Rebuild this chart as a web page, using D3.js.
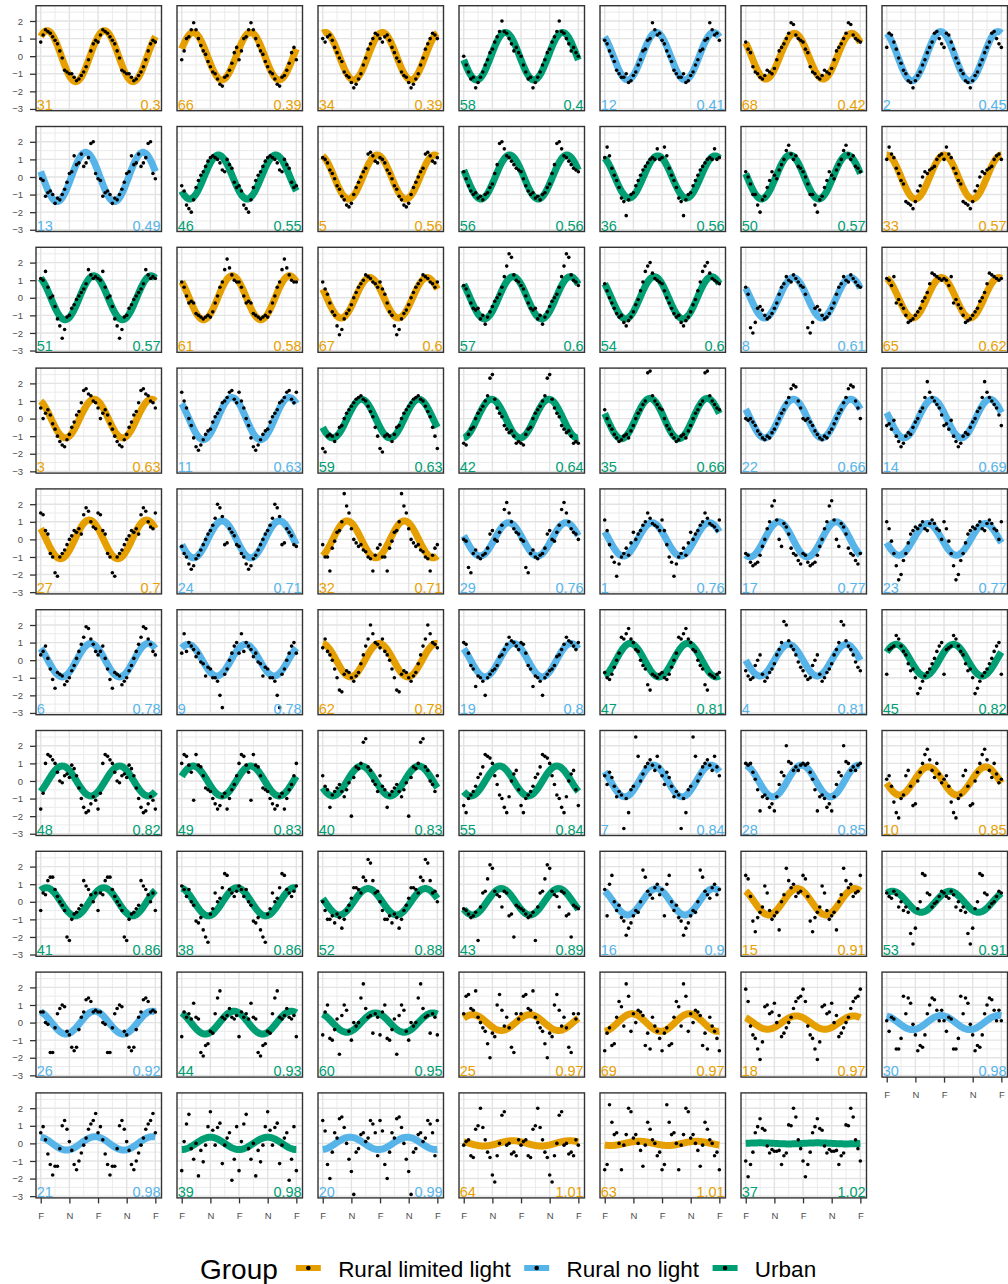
<!DOCTYPE html>
<html>
<head>
<meta charset="utf-8">
<script src="https://cdn.jsdelivr.net/npm/d3@7"></script>
<style>
  html, body { margin: 0; padding: 0; background: #fff; }
  svg { display: block; font-family: "Liberation Sans", Arial, sans-serif; }
</style>
</head>
<body>
<svg id="chart" width="1008" height="1284"></svg>
<script>
// Panels in plotting order (sorted by the score shown bottom right)
const ids = [31,66,34,58,12,68,2, 13,46,5,56,36,50,33, 51,61,67,57,54,8,65,
             3,11,59,42,35,22,14, 27,24,32,29,1,17,23, 6,9,62,19,47,4,45,
             48,49,40,55,7,28,10, 41,38,52,43,16,15,53, 26,44,60,25,69,18,30,
             21,39,20,64,63,37];

// L = Rural limited light, N = Rural no light, U = Urban
const groups = ["L","L","L","U","N","L","N", "N","U","L","U","U","U","L",
                "U","L","L","U","U","N","L", "L","N","U","U","U","N","N",
                "L","N","L","N","N","N","N", "N","N","L","N","U","N","U",
                "U","U","U","U","N","N","L", "U","U","U","U","N","L","U",
                "N","U","U","L","L","L","N", "N","U","N","L","L","U"];

const scores = [0.3,0.39,0.39,0.4,0.41,0.42,0.45, 0.49,0.55,0.56,0.56,0.56,0.57,0.57,
                0.57,0.58,0.6,0.6,0.6,0.61,0.62, 0.63,0.63,0.63,0.64,0.66,0.66,0.69,
                0.7,0.71,0.71,0.76,0.76,0.77,0.77, 0.78,0.78,0.78,0.8,0.81,0.81,0.82,
                0.82,0.83,0.83,0.84,0.84,0.85,0.85, 0.86,0.86,0.88,0.89,0.9,0.91,0.91,
                0.92,0.93,0.95,0.97,0.97,0.97,0.98, 0.98,0.98,0.99,1.01,1.01,1.02];

// fitted cosinor curve per panel: amplitude and peak position (x units, period 2)
const amps = [1.45,1.35,1.35,1.35,1.35,1.3,1.4, 1.4,1.25,1.25,1.25,1.2,1.25,1.25,
              1.25,1.25,1.15,1.2,1.2,1.15,1.15, 1.1,1.2,1.1,1.1,1.15,1.1,1.1,
              1.1,1.05,1.05,0.95,0.95,1.0,0.9, 0.95,0.9,0.95,0.95,0.95,0.9,0.9,
              0.85,0.85,0.85,0.85,0.9,0.9,0.8, 0.8,0.8,0.75,0.75,0.75,0.75,0.6,
              0.65,0.65,0.55,0.45,0.5,0.38,0.4, 0.38,0.35,0.35,0.15,0.12,0.03];
const peaks = [0.22,0.40,0.08,1.45,1.8,1.7,1.88, 1.57,1.28,1.9,1.6,1.85,1.55,0.0,
               1.85,1.76,1.64,1.72,1.73,1.66,1.91, 1.86,1.75,1.35,0.97,1.58,1.66,1.6,
               1.69,1.41,0.85,1.57,1.65,1.15,1.43, 1.75,0.22,1.97,1.74,0.89,1.5,0.33,
               0.75,0.4,1.35,1.25,1.7,1.95,1.45, 0.2,1.93,1.58,1.31,1.8,1.8,0.2,
               1.88,1.82,1.84,0.31,0.95,1.76,1.9, 1.9,1.0,0.95,1.7,1.2,0.5];

// observations over one year (24 per cycle); the same year is shown twice
const points = [
  [0.8,1.2,1.5,1.4,1.3,1.1,0.9,0.7,0.3,-0.1,-0.8,-0.9,-1.0,-1.0,-1.2,-1.4,-1.3,-1.1,-0.9,-0.6,-0.2,0.3,0.7,0.9],
  [-0.2,0.3,1.0,1.1,1.5,1.9,1.5,1.0,0.6,0.3,0.1,-0.3,-0.6,-0.9,-1.0,-1.3,-1.6,-1.7,-1.2,-1.1,-0.8,-0.4,0.2,0.5],
  [1.0,0.8,1.1,1.2,0.9,0.5,0.2,-0.1,-0.3,-0.9,-1.1,-1.2,-1.5,-1.8,-1.6,-1.3,-1.0,-0.5,-0.1,0.4,0.7,1.0,1.3,1.2],
  [0.0,-0.5,-0.9,-1.3,-1.2,-1.8,-1.5,-1.2,-0.9,-0.5,-0.2,0.2,0.4,0.8,1.1,1.4,2.0,1.4,1.3,1.0,0.7,0.3,0.5,0.2],
  [0.9,0.7,0.3,0.0,-0.3,-0.8,-1.0,-1.2,-1.2,-1.0,-1.5,-1.4,-1.1,-0.9,-0.5,-0.2,0.3,0.4,0.9,1.0,1.9,1.5,1.2,1.3],
  [0.8,0.4,0.2,-0.6,-0.9,-1.0,-1.2,-1.3,-1.1,-0.8,-0.9,-1.0,-0.7,-0.2,0.3,0.5,0.7,1.0,1.3,1.9,1.8,1.2,1.0,0.9],
  [0.5,1.3,1.2,0.8,0.4,-0.1,-0.4,-0.8,-1.0,-1.4,-1.5,-1.8,-1.4,-1.1,-0.9,-0.5,-0.2,0.2,0.5,0.8,1.3,1.4,1.0,0.7],

  [-0.1,-0.2,-1.1,-0.9,-0.8,-1.0,-1.5,-1.2,-1.3,-1.0,-0.7,-0.3,0.2,0.3,1.2,0.7,0.8,1.3,0.6,0.8,1.1,1.9,2.0,0.2],
  [-0.5,-0.8,-1.6,-1.8,-2.0,-1.3,-0.6,-0.2,0.1,0.3,0.6,0.9,1.1,1.2,1.1,1.0,0.8,0.4,0.3,1.0,0.7,0.5,-0.3,-0.6],
  [1.1,1.0,0.8,0.4,0.2,-0.1,-0.5,-0.7,-1.1,-1.3,-1.6,-1.7,-1.5,-1.0,-0.6,-0.3,0.0,0.3,0.5,1.3,1.4,1.2,0.9,0.8],
  [0.3,-0.1,-0.5,-0.8,-1.0,-0.9,-1.2,-1.1,-1.3,-1.0,-0.9,-0.6,-0.4,0.2,0.7,1.9,2.0,1.6,1.2,1.1,0.9,0.7,0.5,0.4],
  [1.1,1.7,1.2,0.5,0.1,-0.2,-0.6,-1.2,-1.4,-2.2,-1.3,-1.0,-0.9,-0.5,-0.2,0.1,0.4,0.6,0.8,1.0,1.1,1.0,1.6,1.0],
  [0.3,0.0,-0.4,-1.0,-1.0,-1.6,-2.0,-1.3,-1.1,-0.6,-0.2,0.3,0.1,-0.1,0.4,0.7,1.0,1.5,1.8,1.3,1.0,1.2,0.6,0.5],
  [1.0,1.7,1.3,1.1,0.5,0.2,-0.2,-0.4,-1.4,-1.5,-1.6,-1.8,-1.4,-0.8,-0.5,0.0,0.3,0.2,0.4,0.5,0.6,1.0,1.2,1.3],

  [1.1,1.0,1.5,0.6,0.0,0.1,-0.5,-1.2,-1.6,-2.3,-1.8,-1.1,-1.0,-0.6,-0.4,-0.1,0.1,0.3,0.5,0.8,1.6,1.3,1.1,1.2],
  [0.9,0.6,0.1,-0.3,-0.2,-0.3,-0.9,-1.0,-1.1,-1.2,-1.1,-1.0,-1.1,-0.8,-0.3,0.1,0.6,0.9,1.6,2.2,1.7,1.3,1.0,0.9],
  [0.9,0.5,0.2,-0.3,-0.8,-1.0,-1.6,-2.1,-1.8,-1.2,-0.9,-0.7,-0.4,0.0,0.3,0.6,0.8,1.0,1.3,1.2,1.1,0.9,0.8,0.6],
  [0.7,0.5,0.1,-0.3,-0.6,-0.7,-0.6,-1.2,-1.0,-1.5,-1.1,-0.8,-0.5,-0.2,0.0,0.2,0.6,1.2,1.8,2.5,2.3,1.3,1.0,0.9],
  [0.8,0.4,0.0,-0.3,-0.6,-0.9,-1.1,-1.0,-1.4,-1.6,-1.3,-1.1,-0.8,-0.4,-0.1,0.4,0.9,1.5,1.8,2.0,1.4,1.1,1.0,0.9],
  [0.6,0.2,-1.7,-2.0,-1.4,-0.6,-0.5,-0.7,-1.0,-1.2,-1.1,-0.9,-0.6,-0.3,0.2,0.6,0.8,1.2,1.0,0.9,1.3,1.1,0.9,0.7],
  [1.1,1.0,0.7,1.2,-0.3,-0.1,-0.4,-0.6,-1.0,-1.4,-1.3,-1.2,-1.0,-0.8,-0.6,-0.2,0.0,0.3,0.8,1.4,1.3,1.2,1.1,1.0],

  [0.6,0.0,0.3,0.5,0.2,-0.3,-0.6,-1.0,-1.3,-1.5,-1.6,-1.2,-0.9,-0.5,-0.2,0.2,0.4,0.9,1.6,1.7,1.4,1.3,1.0,0.9],
  [1.5,1.0,0.6,0.0,-0.4,-1.1,-1.6,-1.8,-1.5,-1.2,-0.9,-0.7,-0.6,-0.2,0.1,0.3,0.5,0.9,1.0,1.2,1.5,1.6,1.1,0.9],
  [-1.7,-1.9,-1.0,-0.9,-1.0,-1.3,-0.9,-0.5,-0.4,0.0,0.3,0.5,0.7,0.9,1.1,1.2,1.3,1.1,1.0,0.7,0.4,0.1,-0.5,-1.0],
  [-1.4,-1.5,-0.9,-0.6,-0.5,0.0,0.3,0.5,0.7,1.0,1.3,2.3,2.5,1.1,0.6,0.3,0.1,-0.4,-0.6,-0.8,-0.7,-1.0,-1.4,-1.3],
  [0.5,0.0,-0.4,-0.6,-0.9,-1.1,-1.3,-1.2,-1.0,-0.9,-1.1,-0.7,-0.4,0.0,0.3,0.5,0.8,1.0,2.6,2.7,1.3,1.0,0.8,0.6],
  [0.0,-0.1,0.0,-0.2,-0.4,-0.7,-0.9,-1.1,-1.2,-1.0,-1.1,-0.8,-0.6,-0.3,0.0,0.3,0.5,0.9,1.2,1.7,1.9,1.8,1.0,0.6],
  [-0.4,-0.3,-0.6,-0.1,-1.0,-1.3,-1.6,-1.4,-1.0,-0.8,-0.9,-0.5,-0.2,0.0,0.4,0.6,1.2,2.1,1.5,1.2,1.0,0.8,0.6,0.2],

  [1.5,1.4,0.5,0.3,-0.8,-1.0,-1.9,-2.1,-1.0,-0.8,-0.6,-0.3,0.0,0.2,0.5,0.4,0.6,0.3,1.4,1.8,1.6,1.0,0.7,0.6],
  [-0.4,-0.8,-1.0,-1.4,-1.7,-1.5,-1.1,-0.9,-0.6,-0.3,0.0,0.3,0.5,0.8,1.2,2.0,1.8,1.3,-0.3,-0.2,0.6,0.4,0.2,-0.3],
  [-0.3,-1.0,-1.0,-1.8,-0.5,-0.1,0.4,0.5,1.0,2.6,1.9,1.5,0.6,0.0,-0.2,-0.4,-0.3,-0.6,-0.7,-1.0,-1.1,-1.8,-0.9,-0.5],
  [0.0,-0.1,-1.6,-1.9,-0.8,-0.6,-1.0,-1.1,-0.9,-0.8,-0.5,0.3,0.5,0.0,-0.1,0.4,0.8,1.7,2.1,1.5,1.0,0.6,0.4,0.3],
  [1.1,0.5,-0.3,-1.0,-1.3,-2.1,-1.4,-1.0,-0.8,-0.5,-0.9,-0.2,0.4,0.0,0.3,0.5,0.8,1.0,1.5,1.2,0.9,0.8,0.7,0.5],
  [-0.8,-0.9,-1.3,-1.5,-1.4,-1.3,-0.9,-0.4,0.0,0.6,1.0,1.9,2.2,1.1,0.0,-0.4,0.9,0.7,0.3,-0.5,-0.8,-0.9,-1.2,-1.4],
  [1.0,0.6,-0.1,-0.8,-1.5,-2.3,-2.0,-1.2,-0.8,-0.2,0.3,0.5,0.7,0.6,0.8,1.0,0.6,0.5,0.9,1.1,0.9,0.6,0.5,0.0],

  [0.3,0.5,0.8,0.1,-0.5,-1.1,-1.6,-0.7,-0.8,-0.9,-1.4,-1.2,-1.0,-0.6,-0.3,0.1,0.5,0.9,1.3,1.9,1.8,1.2,0.9,0.5],
  [0.4,1.5,0.5,1.0,0.8,0.6,0.2,0.4,-0.1,-0.2,-0.9,-0.4,-0.5,-1.0,-1.0,-1.2,-2.0,-2.7,-0.8,-0.5,0.0,0.4,0.8,1.0],
  [0.7,1.2,0.5,0.3,0.0,-0.5,-1.0,-1.7,-1.8,-0.8,-0.6,-0.7,-1.0,-1.2,-0.9,-0.7,-0.2,0.3,0.8,1.2,2.0,1.5,1.0,0.9],
  [1.0,0.9,0.4,-0.3,-0.5,-1.5,-0.9,-1.0,-1.2,-2.0,-1.0,-0.8,-0.6,-0.5,-0.3,0.2,0.3,0.6,0.9,1.3,1.1,1.0,0.8,0.6],
  [-0.7,-1.0,-1.1,-0.8,-0.4,0.0,0.4,1.3,1.2,1.5,1.8,1.2,1.0,0.6,0.5,0.0,-0.3,-0.5,-1.4,-1.7,-0.8,-0.9,-1.0,-0.8],
  [-0.6,-0.9,-1.1,-1.0,-0.3,0.0,0.3,-0.8,-1.2,-1.0,-0.7,-0.5,-0.2,0.3,0.6,1.0,2.2,2.0,1.1,0.8,0.6,0.3,-0.1,-0.4],
  [-0.8,0.6,0.7,0.8,1.4,1.2,0.8,0.5,0.3,-0.2,-0.6,-0.5,-1.0,-1.9,-1.6,-1.2,-0.9,-0.7,-0.5,-0.2,0.1,0.5,0.8,1.0],

  [-1.6,-0.7,1.0,1.5,1.4,1.2,1.0,0.5,0.0,-0.1,0.3,0.4,0.2,0.9,0.7,0.3,-0.4,-1.0,-1.5,-1.8,-1.7,-1.3,-0.9,-1.1],
  [1.0,1.5,1.4,0.9,0.5,-1.1,1.5,0.9,0.8,0.3,-0.4,-0.5,-0.6,-1.0,-1.3,-1.6,-1.4,-0.9,-0.7,-1.6,-1.0,-0.5,-0.2,0.3],
  [0.3,-0.3,-0.5,-1.5,-0.8,-0.6,-0.4,-0.2,-0.6,-0.9,-0.5,-0.1,-2.0,0.2,0.8,0.7,1.0,2.2,2.4,0.8,0.6,0.0,-0.2,-0.6],
  [-1.4,-1.8,-1.0,-0.8,-0.6,-0.3,0.2,0.4,0.8,1.5,1.4,1.3,1.0,0.3,-0.2,-0.8,-1.0,-1.5,-1.8,-0.9,0.0,0.4,0.6,-0.5],
  [0.3,-0.2,0.5,0.2,-0.3,-0.9,-0.6,-0.8,-2.7,-1.0,-1.8,-0.5,-0.3,2.5,1.4,0.0,0.4,0.8,1.0,1.2,0.9,0.6,1.4,0.8],
  [1.0,0.9,1.0,0.5,0.1,-0.5,-1.7,-0.9,-0.8,-1.0,-1.5,-1.3,-1.7,-0.9,-0.2,0.5,0.3,2.0,1.1,1.0,0.6,0.8,0.6,0.9],
  [0.1,0.3,-0.3,-1.2,-1.8,-2.1,-1.0,-0.8,0.3,0.6,-0.3,-1.4,-1.3,0.0,0.5,1.0,1.5,1.8,1.2,0.6,0.2,1.0,0.4,-0.1],

  [-0.5,0.5,0.4,1.2,1.4,1.4,0.7,0.3,0.0,-0.2,-0.5,-2.0,-2.2,-1.0,-0.7,-0.6,-0.4,-0.2,1.2,0.9,0.7,0.4,0.0,0.5],
  [0.9,0.7,0.3,0.7,0.0,-0.2,-1.1,-1.2,-0.9,-1.6,-2.0,-2.3,-0.7,-0.4,0.5,0.0,0.2,0.8,1.6,1.5,0.7,0.5,0.3,0.6],
  [0.0,-0.5,-1.0,-1.0,-0.8,-1.2,-0.7,-0.9,-1.5,-1.0,-0.5,-0.2,0.2,0.8,0.8,0.7,0.5,1.4,1.2,2.4,2.2,1.2,0.5,0.6],
  [-0.4,-0.5,-0.7,-0.9,-0.8,-0.6,-2.2,-0.3,0.5,0.6,1.3,2.1,1.9,0.6,0.4,0.3,-0.3,0.6,0.5,-0.8,-0.7,-2.0,-0.2,-0.3],
  [0.7,-0.8,1.0,1.5,0.0,-0.5,-0.2,-0.9,-1.1,-1.9,-1.5,-1.2,-0.8,-0.5,-0.6,0.0,1.8,1.4,0.6,0.4,0.2,0.8,1.0,0.4],
  [1.5,1.3,0.3,-1.1,-1.7,-0.9,-0.6,-0.3,0.9,0.5,-0.5,-1.0,-0.8,-0.6,-1.6,0.0,0.4,1.9,1.2,0.8,1.0,0.3,0.5,0.6],
  [0.5,0.3,0.2,0.6,0.4,-0.3,0.0,-0.5,-0.3,-0.6,-1.8,-2.4,-1.5,-0.4,0.0,1.6,1.5,0.5,0.4,-0.3,-0.1,0.0,0.3,0.6],

  [0.6,0.6,0.0,-0.1,-1.7,-1.7,-0.3,0.5,0.8,1.0,0.9,-0.5,-0.7,-1.4,-1.6,-1.4,-0.4,0.3,0.6,1.3,1.4,1.2,0.6,0.7],
  [-0.8,0.6,0.3,0.5,0.2,1.1,0.3,0.2,-1.7,-1.9,-1.3,-1.2,-0.5,-0.6,0.5,1.4,1.8,0.3,0.2,0.4,0.8,0.3,0.2,0.4],
  [-0.7,0.6,1.0,-0.9,-1.0,-0.4,0.2,-1.8,0.4,1.0,0.7,-0.5,-1.0,0.0,-0.2,0.0,1.4,2.2,0.8,0.3,0.4,-0.6,0.5,0.3],
  [0.5,1.5,1.6,0.8,0.7,1.8,0.3,0.0,-0.3,-0.5,-1.2,-2.0,-0.6,-0.8,1.0,1.6,0.7,-0.2,0.3,-0.3,-1.4,-1.7,0.5,0.2],
  [-1.6,-0.6,-0.3,-1.3,-1.2,0.3,1.2,0.9,-0.2,2.2,1.5,-0.5,0.5,0.0,0.7,0.6,0.4,-1.3,-0.6,-1.5,0.3,-0.2,-0.5,-0.9],
  [1.9,1.2,-0.2,-0.7,-0.9,-1.5,-2.1,-1.1,0.9,1.0,0.5,0.6,1.1,0.0,0.4,-0.8,-0.6,-0.3,0.0,0.3,0.8,1.2,1.4,1.5],
  [0.1,-0.5,0.3,0.2,-1.5,-1.5,-0.9,1.5,0.5,1.4,1.1,-0.1,-0.7,-1.6,-1.3,-1.4,-0.7,0.5,1.0,1.4,1.3,0.7,0.1,0.7],

  [0.6,0.95,0.2,-0.6,-1.2,-1.8,-1.3,-1.3,-0.3,1.0,1.3,0.8,0.1,-0.4,-1.2,-1.5,-1.0,-0.55,-0.1,0.3,0.8,1.1,1.3,1.7],
  [-1.55,0.1,1.1,1.65,-0.3,-0.9,0.0,-1.85,-0.4,-1.05,-0.1,0.95,1.8,0.75,-0.1,0.9,1.15,-1.15,-0.1,0.3,0.6,-2.1,-0.9,0.95],
  [1.3,0.7,-1.2,-2.0,-0.5,0.6,0.3,1.4,1.5,0.9,0.0,-0.9,-1.6,-2.9,-0.5,-0.3,0.5,0.6,0.1,0.3,1.3,1.1,0.6,-0.7],
  [-0.1,0.1,0.2,-0.7,-0.8,0.8,1.0,2.0,0.9,0.2,-0.5,-0.8,-1.8,-2.2,-0.7,0.0,1.6,1.8,-0.1,0.0,-0.6,-0.5,-0.7,0.2],
  [-1.5,-1.2,2.2,1.2,0.5,0.6,0.0,-1.5,-0.1,0.5,2.0,1.8,0.3,0.5,0.0,-0.4,-1.3,-0.1,1.2,0.8,0.2,0.0,-0.7,-0.5],
  [-1.0,-1.9,-1.2,-0.5,0.6,0.95,1.4,0.85,0.75,-0.15,-0.55,-0.35,-0.45,-0.45,-0.4,-1.2,-0.7,-0.55,1.05,1.0,2.0,1.5,0.2,-0.3]
];

const groupKeys = ["L", "N", "U"];
const groupNames = ["Rural limited light", "Rural no light", "Urban"];
const groupColors = { L: "#E69F00", N: "#56B4E9", U: "#009E73" };

const xTicks = [0, 1, 2, 3, 4];
const xTickLabels = ["F", "N", "F", "N", "F"];
const yTicks = [2, 1, 0, -1, -2, -3];

// layout
const svg = d3.select("#chart");
const nCols = 7;
const panelW = 125.5, panelH = 105;
const colStep = 141, rowStep = 120.8;
const left0 = 36, top0 = 5.7;

const x = d3.scaleLinear().domain([-0.165, 4.215]).range([0, panelW]);
const y = d3.scaleLinear().domain([-3.1, 2.87]).range([panelH, 0]);

const xMinor = [0.5, 1.5, 2.5, 3.5];
const yMinor = [2.5, 1.5, 0.5, -0.5, -1.5, -2.5];

const line = d3.line().x(d => x(d[0])).y(d => y(d[1]));
const curveXs = d3.range(0, 4.0001, 0.02);

ids.forEach((id, i) => {
    const col = i % nCols;
    const row = Math.floor(i / nCols);
    const color = groupColors[groups[i]];
    const g = svg.append("g")
        .attr("transform", `translate(${left0 + col * colStep},${top0 + row * rowStep})`);

    g.append("rect").attr("width", panelW).attr("height", panelH).attr("fill", "#fff");

    // grid
    g.selectAll(".gmx").data(xMinor).enter().append("line")
        .attr("x1", d => x(d)).attr("x2", d => x(d)).attr("y1", 0).attr("y2", panelH)
        .attr("stroke", "#ebebeb").attr("stroke-width", 1);
    g.selectAll(".gmy").data(yMinor).enter().append("line")
        .attr("x1", 0).attr("x2", panelW).attr("y1", d => y(d)).attr("y2", d => y(d))
        .attr("stroke", "#ebebeb").attr("stroke-width", 1);
    g.selectAll(".gx").data(xTicks).enter().append("line")
        .attr("x1", d => x(d)).attr("x2", d => x(d)).attr("y1", 0).attr("y2", panelH)
        .attr("stroke", "#e3e3e3").attr("stroke-width", 1.4);
    g.selectAll(".gy").data(yTicks).enter().append("line")
        .attr("x1", 0).attr("x2", panelW).attr("y1", d => y(d)).attr("y2", d => y(d))
        .attr("stroke", "#e3e3e3").attr("stroke-width", 1.4);

    // fitted curve
    const A = amps[i], p = peaks[i];
    const curve = curveXs.map(t => [t, A * Math.cos(Math.PI * (t - p))]);
    g.append("path")
        .datum(curve)
        .attr("fill", "none")
        .attr("stroke", color)
        .attr("stroke-width", 7)
        .attr("d", line);

    // observations, the year drawn twice
    const vals = points[i];
    const obs = [];
    for (let c = 0; c < 2; c++) {
        vals.forEach((v, k) => obs.push([c * 2 + k / 12, v]));
    }
    obs.push([4, vals[0]]);
    g.selectAll("circle").data(obs).enter().append("circle")
        .attr("cx", d => x(d[0]))
        .attr("cy", d => y(d[1]))
        .attr("r", 1.8)
        .attr("fill", "#000");

    // labels
    g.append("text")
        .attr("x", 0.8).attr("y", panelH - 0.8)
        .attr("font-size", 14.5).attr("fill", color)
        .text(id);
    g.append("text")
        .attr("x", panelW - 0.8).attr("y", panelH - 0.8)
        .attr("text-anchor", "end")
        .attr("font-size", 14.5).attr("fill", color)
        .text(scores[i]);

    g.append("rect").attr("width", panelW).attr("height", panelH)
        .attr("fill", "none").attr("stroke", "#333").attr("stroke-width", 1.4);

    // y axis on the first column
    if (col === 0) {
        const ya = g.append("g").call(d3.axisLeft(y).tickValues(yTicks)
            .tickFormat(d3.format("d")).tickSize(6).tickPadding(7));
        ya.select(".domain").remove();
        ya.selectAll("line").attr("stroke", "#333").attr("stroke-width", 1.3);
        ya.selectAll("text").attr("font-size", 9.5).attr("fill", "#4d4d4d")
            .attr("font-family", "Liberation Sans, Arial, sans-serif");
    }

    // x axis where no panel sits below
    if (i + nCols >= ids.length) {
        const xa = g.append("g").attr("transform", `translate(0,${panelH})`)
            .call(d3.axisBottom(x).tickValues(xTicks)
                .tickFormat((d, j) => xTickLabels[j]).tickSize(5.5).tickPadding(9));
        xa.select(".domain").remove();
        xa.selectAll("line").attr("stroke", "#333").attr("stroke-width", 1.3);
        xa.selectAll("text").attr("font-size", 9.5).attr("fill", "#4d4d4d")
            .attr("font-family", "Liberation Sans, Arial, sans-serif");
    }
});

// legend
const legend = svg.append("g").attr("transform", "translate(200,0)");
const title = legend.append("text")
    .attr("x", 0).attr("y", 1279)
    .attr("font-size", 28).attr("fill", "#000")
    .text("Group");
let cursor = title.node().getComputedTextLength() + 18;
groupKeys.forEach((k, i) => {
    legend.append("rect")
        .attr("x", cursor).attr("y", 1265)
        .attr("width", 25).attr("height", 6)
        .attr("fill", groupColors[k]);
    legend.append("circle")
        .attr("cx", cursor + 12.5).attr("cy", 1268)
        .attr("r", 2.3).attr("fill", "#000");
    cursor += 25 + 17.3;
    const t = legend.append("text")
        .attr("x", cursor).attr("y", 1277)
        .attr("font-size", 22.5).attr("fill", "#000")
        .text(groupNames[i]);
    cursor += t.node().getComputedTextLength() + 13.5;
});
</script>
</body>
</html>
